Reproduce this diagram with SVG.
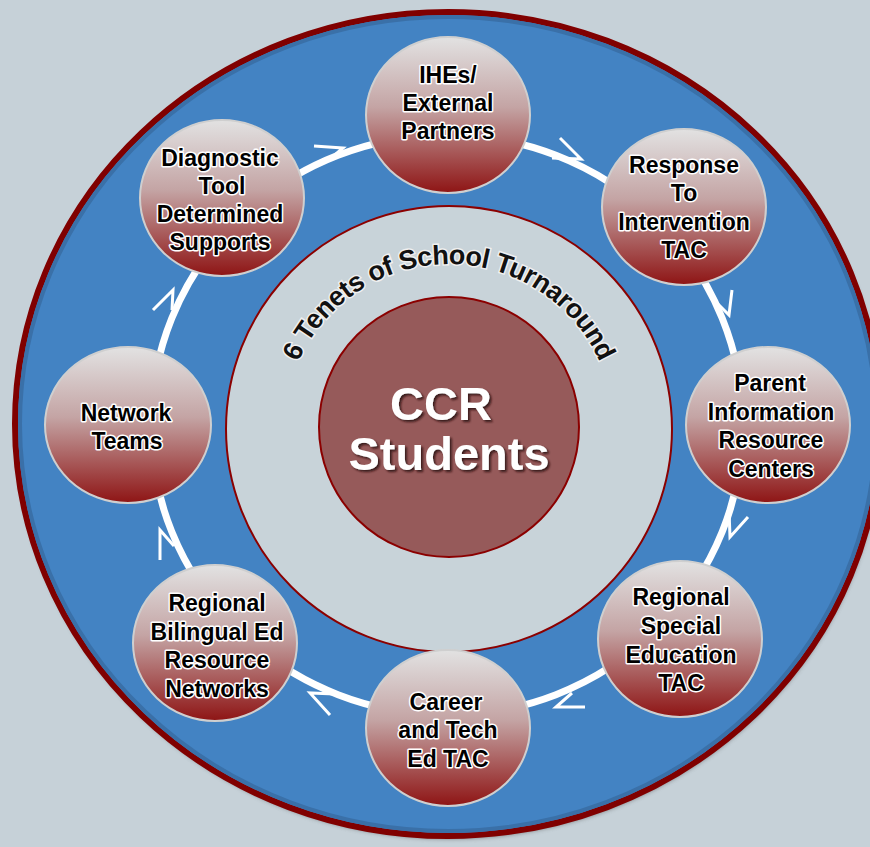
<svg xmlns="http://www.w3.org/2000/svg" width="870" height="847" viewBox="0 0 870 847">
<defs>
<linearGradient id="nodeGrad" x1="0" y1="0" x2="0" y2="1">
<stop offset="0" stop-color="#E2E2E2"/>
<stop offset="0.45" stop-color="#C4A4A4"/>
<stop offset="1" stop-color="#8E1414"/>
</linearGradient>
<filter id="ds" x="-20%" y="-20%" width="140%" height="140%">
<feDropShadow dx="2" dy="2" stdDeviation="1" flood-color="#2a0a0a" flood-opacity="0.85"/>
</filter>
<filter id="blur" x="-5%" y="-5%" width="110%" height="110%">
<feGaussianBlur stdDeviation="2"/>
</filter>
<path id="arcPath" d="M 284 429 A 165 165 0 0 1 614 429"/>
</defs>
<style>
.node ellipse{fill:url(#nodeGrad);stroke:#CFCFCF;stroke-width:2}
.lbl{font-family:"Liberation Sans",Arial,sans-serif;font-weight:bold;font-size:23px;fill:#000;text-anchor:middle;stroke:#FFFFFF;stroke-width:3;paint-order:stroke;stroke-linejoin:round}
.ring{fill:none;stroke:#FFFFFF;stroke-width:7}
.arr{fill:none;stroke:#FFFFFF;stroke-width:3;stroke-linejoin:miter}
</style>
<rect x="0" y="0" width="870" height="847" fill="#C6D1D8"/>
<g id="outer">
<ellipse cx="449" cy="427" rx="433" ry="412" fill="#555" opacity="0.6" filter="url(#blur)"/>
<ellipse cx="448" cy="424" rx="433" ry="412" fill="#4383C3" stroke="#800000" stroke-width="6"/>
<ellipse cx="448" cy="424" rx="428" ry="407" fill="none" stroke="#3A70A8" stroke-width="4"/>
</g>
<g id="inner">
<circle cx="449" cy="429" r="223" fill="#C8D3D9" stroke="#8B0000" stroke-width="2"/>
<text font-family="'Liberation Sans',Arial,sans-serif" font-weight="bold" font-size="27" fill="#111" stroke="#F0F0F0" stroke-width="3" paint-order="stroke" text-anchor="middle"><textPath href="#arcPath" startOffset="50%" textLength="380" lengthAdjust="spacing">6 Tenets of School Turnaround</textPath></text>
</g>
<g id="center">
<circle cx="449" cy="427" r="130" fill="#965A5A" stroke="#8B0000" stroke-width="2"/>
<g filter="url(#ds)" font-family="'Liberation Sans',Arial,sans-serif" font-weight="bold" font-size="47" fill="#FFFFFF" text-anchor="middle">
<text x="441" y="420">CCR</text>
<text x="449" y="470">Students</text>
</g>
</g>
<g id="connectors">
<ellipse class="ring" cx="447" cy="425" rx="296" ry="290"/>
<polyline class="arr" points="314,146 343,148 330,159"/>
<polyline class="arr" points="560,138 581,159 552,158"/>
<polyline class="arr" points="732,290 729,315 712,298"/>
<polyline class="arr" points="748,517 730,537 729,510"/>
<polyline class="arr" points="585,707 556,707 572,693"/>
<polyline class="arr" points="330,715 310,693 335,694"/>
<polyline class="arr" points="160,560 160,530 174,546"/>
<polyline class="arr" points="153,310 173,290 172,310"/>
</g>
<g id="n-ihe" class="node">
<ellipse cx="448" cy="115" rx="82" ry="78"/>
<text class="lbl" x="448" y="83">IHEs/</text>
<text class="lbl" x="448" y="111">External</text>
<text class="lbl" x="448" y="139">Partners</text>
</g>
<g id="n-rti" class="node">
<ellipse cx="684" cy="207" rx="82" ry="78"/>
<text class="lbl" x="684" y="173">Response</text>
<text class="lbl" x="684" y="201">To</text>
<text class="lbl" x="684" y="230">Intervention</text>
<text class="lbl" x="684" y="258">TAC</text>
</g>
<g id="n-parent" class="node">
<ellipse cx="768" cy="425" rx="82" ry="78"/>
<text class="lbl" x="770" y="391">Parent</text>
<text class="lbl" x="771" y="420">Information</text>
<text class="lbl" x="771" y="448">Resource</text>
<text class="lbl" x="771" y="477">Centers</text>
</g>
<g id="n-sped" class="node">
<ellipse cx="680" cy="639" rx="82" ry="78"/>
<text class="lbl" x="681" y="605">Regional</text>
<text class="lbl" x="681" y="634">Special</text>
<text class="lbl" x="681" y="663">Education</text>
<text class="lbl" x="681" y="691">TAC</text>
</g>
<g id="n-cte" class="node">
<ellipse cx="448" cy="728" rx="82" ry="78"/>
<text class="lbl" x="446" y="710">Career</text>
<text class="lbl" x="448" y="738">and Tech</text>
<text class="lbl" x="448" y="767">Ed TAC</text>
</g>
<g id="n-bilingual" class="node">
<ellipse cx="215" cy="643" rx="82" ry="78"/>
<text class="lbl" x="217" y="611">Regional</text>
<text class="lbl" x="217" y="640">Bilingual Ed</text>
<text class="lbl" x="217" y="668">Resource</text>
<text class="lbl" x="217" y="697">Networks</text>
</g>
<g id="n-network" class="node">
<ellipse cx="128" cy="425" rx="83" ry="78"/>
<text class="lbl" x="126" y="421">Network</text>
<text class="lbl" x="127" y="449">Teams</text>
</g>
<g id="n-diag" class="node">
<ellipse cx="222" cy="198" rx="82" ry="78"/>
<text class="lbl" x="220" y="166">Diagnostic</text>
<text class="lbl" x="222" y="194">Tool</text>
<text class="lbl" x="220" y="222">Determined</text>
<text class="lbl" x="220" y="250">Supports</text>
</g>
</svg>
